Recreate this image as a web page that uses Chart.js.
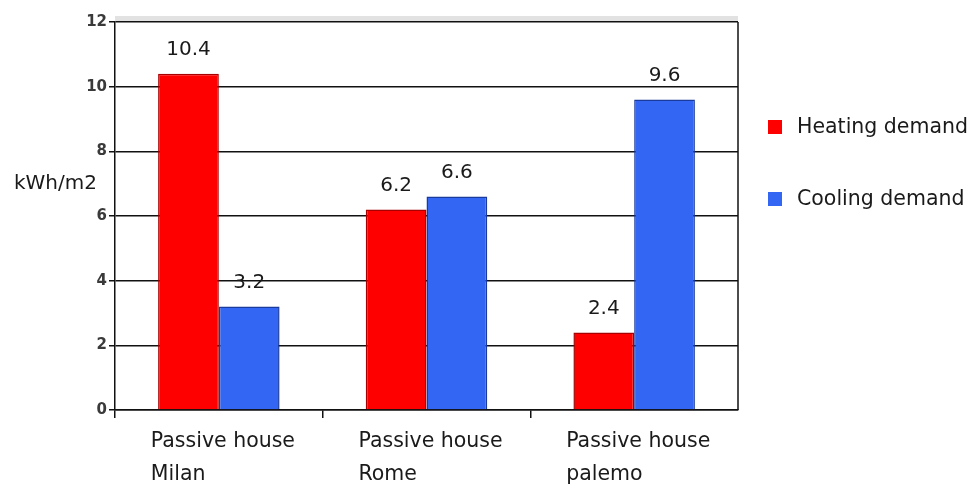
<!DOCTYPE html>
<html>
<head>
<meta charset="utf-8">
<script src="https://cdn.jsdelivr.net/npm/chart.js@4/dist/chart.umd.min.js"></script>
<style>
  html, body { margin: 0; padding: 0; background: #fff; }
  #wrap { width: 978px; height: 492px; }
</style>
</head>
<body>
<div id="wrap"><canvas id="c" width="978" height="492"></canvas></div>
<script>
// Energy demand of passive houses in three Italian cities
const categories = [["Passive house", "Milan"], ["Passive house", "Rome"], ["Passive house", "palemo"]];
const seriesNames = ["Heating demand", "Cooling demand"];
const heating = [10.4, 6.2, 2.4];
const cooling = [3.2, 6.6, 9.6];
const yTicks = [0, 2, 4, 6, 8, 10, 12];
const unitLabel = "kWh/m2";

const FONT = "'DejaVu Sans', sans-serif";
const TEXT = "#1a1a1a";

// value labels above each bar
const valueLabels = {
  id: 'valueLabels',
  afterDatasetsDraw(chart) {
    const ctx = chart.ctx;
    ctx.save();
    ctx.font = `20px ${FONT}`;
    ctx.fillStyle = TEXT;
    ctx.textAlign = 'center';
    ctx.textBaseline = 'bottom';
    chart.data.datasets.forEach((ds, di) => {
      chart.getDatasetMeta(di).data.forEach((bar, i) => {
        ctx.fillText(String(ds.data[i]), bar.x, bar.y - 14);
      });
    });
    ctx.restore();
  }
};

// frame, unit title, category labels and legend
const decorations = {
  id: 'decorations',
  beforeDraw(chart) {
    const { ctx, chartArea: a } = chart;
    ctx.save();
    ctx.fillStyle = '#e2e2e2';
    ctx.fillRect(a.left, a.top - 6, a.right - a.left, 5);
    ctx.restore();
  },
  afterDraw(chart) {
    const { ctx, chartArea: a } = chart;
    ctx.save();
    // right border of plot box
    ctx.strokeStyle = '#111';
    ctx.lineWidth = 1.5;
    ctx.beginPath();
    ctx.moveTo(a.right, a.top);
    ctx.lineTo(a.right, a.bottom);
    ctx.stroke();

    // unit title, horizontal
    ctx.font = `20px ${FONT}`;
    ctx.fillStyle = TEXT;
    ctx.textAlign = 'left';
    ctx.textBaseline = 'middle';
    ctx.fillText(unitLabel, 14, 184);

    // category labels, left aligned two lines
    const xs = chart.scales.x;
    ctx.font = `20.5px ${FONT}`;
    categories.forEach((lines, i) => {
      const cx = xs.getPixelForValue(i);
      lines.forEach((ln, j) => {
        ctx.fillText(ln, cx - 68, 442 + j * 33);
      });
    });

    // legend
    ctx.font = `20.5px ${FONT}`;
    chart.data.datasets.forEach((ds, i) => {
      const y = 127 + i * 72;
      ctx.fillStyle = ds.backgroundColor;
      ctx.fillRect(768, y - 7, 14, 14);
      ctx.fillStyle = TEXT;
      ctx.fillText(ds.label, 797, y + 1);
    });
    ctx.restore();
  }
};

new Chart(document.getElementById('c'), {
  type: 'bar',
  data: {
    labels: categories.map(c => c.join(' ')),
    datasets: [
      { label: seriesNames[0], data: heating, backgroundColor: '#ff0000', borderColor: '#a80000', borderWidth: 1.5, borderSkipped: 'bottom' },
      { label: seriesNames[1], data: cooling, backgroundColor: '#3366f2', borderColor: '#1b3a9e', borderWidth: 1.5, borderSkipped: 'bottom' }
    ]
  },
  options: {
    responsive: false,
    animation: false,
    layout: { padding: { left: 0, right: 240, top: 22, bottom: 74 } },
    plugins: { legend: { display: false }, tooltip: { enabled: false } },
    datasets: { bar: { categoryPercentage: 0.585, barPercentage: 1.0 } },
    scales: {
      x: {
        offset: true,
        grid: {
          display: true, drawOnChartArea: false, drawTicks: true, tickLength: 8, lineWidth: 1.5, offset: true,
          // tick marks only between categories, none at the right edge
          color: c => (c.type === 'tick' ? '#111' : 'rgba(0,0,0,0)')
        },
        border: { display: true, color: '#111', width: 1.5 },
        ticks: { display: false }
      },
      y: {
        min: 0, max: 12,
        afterBuildTicks: s => { s.ticks = yTicks.map(v => ({ value: v })); },
        afterFit: s => { s.width = 115; },
        grid: { color: '#111', lineWidth: 1.5, tickLength: 6, drawTicks: true },
        border: { display: true, color: '#111', width: 1.5 },
        ticks: { padding: 2, color: '#3a3a3a', font: { family: FONT, size: 15, weight: 'bold' } }
      }
    }
  },
  plugins: [valueLabels, decorations]
});
</script>
</body>
</html>
